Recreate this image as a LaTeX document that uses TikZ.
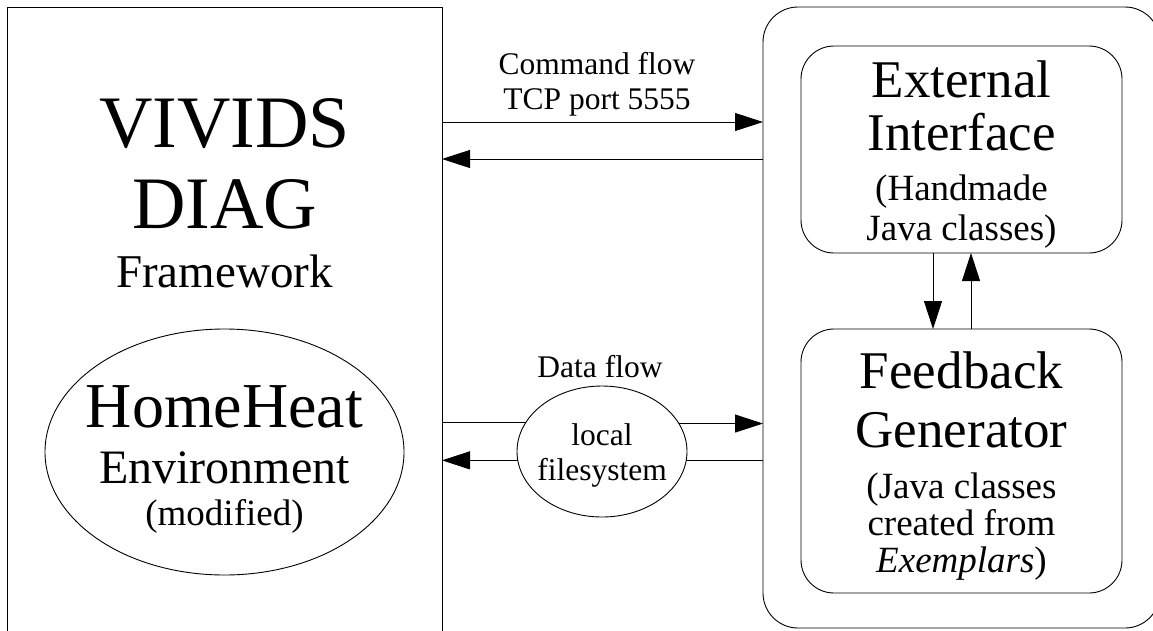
\documentclass[tikz,border=0pt]{standalone}
\usepackage{fontspec}
\setmainfont{Liberation Serif}
\usetikzlibrary{arrows.meta,shapes.geometric}
\begin{document}
\begin{tikzpicture}[x=1pt,y=-1pt,
  frame/.style={draw,line width=0.9pt,outer sep=0pt,inner sep=0pt},
  rbox/.style={frame,rectangle,rounded corners=#1},
  ell/.style={frame,ellipse},
  ln/.style={line width=0.9pt},
  arr/.style={ln,-{Triangle[length=28pt,width=18pt]}},
  txt/.style={anchor=base,inner sep=0pt,outer sep=0pt},
  huge/.style={txt,font=\fontsize{74}{80}\selectfont},
  fw/.style={txt,font=\fontsize{47}{52}\selectfont},
  hh/.style={txt,font=\fontsize{64}{70}\selectfont},
  env/.style={txt,font=\fontsize{48}{52}\selectfont},
  title/.style={txt,font=\fontsize{53}{58}\selectfont},
  sub/.style={txt,font=\fontsize{37}{40}\selectfont},
  lbl/.style={txt,font=\fontsize{31.5}{35}\selectfont},
]
\useasboundingbox (0,0) rectangle (1153,630);
\clip (0,0) rectangle (1153,630);

% left framework box (continues below the picture)
\node[frame,rectangle,minimum width=435pt,minimum height=700pt,anchor=north west] (diag) at (7,7) {};
\node[huge] (t1) at (224.5,147) {VIVIDS};
\node[huge] (t2) at (224.5,228) {DIAG};
\node[fw]   (t3) at (224.5,287) {Framework};

% HomeHeat ellipse
\node[ell,minimum width=359pt,minimum height=246pt] (hh) at (224.5,452) {};
\node[hh]  (h1) at (224.5,427) {HomeHeat};
\node[env] (h2) at (224.5,483) {Environment};
\node[sub] (h3) at (224.5,525) {(modified)};

% right outer box
\node[rbox=35pt,minimum width=397pt,minimum height=621pt] (outer) at (961.5,317.5) {};

% External Interface
\node[rbox=33pt,minimum width=321pt,minimum height=207pt] (ei) at (961.5,149.5) {};
\node[title] (e1) at (961.5,97) {External};
\node[title] (e2) at (961.5,150) {Interface};
\node[sub]   (e3) at (961.5,200) {(Handmade};
\node[sub]   (e4) at (961.5,240) {Java classes)};

% Feedback Generator
\node[rbox=33pt,minimum width=321pt,minimum height=264pt] (fg) at (961.5,461) {};
\node[title] (f1) at (961.5,388) {Feedback};
\node[title] (f2) at (961.5,447) {Generator};
\node[sub]   (f3) at (961.5,498) {(Java classes};
\node[sub]   (f4) at (961.5,535) {created from};
\node[sub]   (f5) at (961.5,572) {\textit{Exemplars})};

% command flow
\node[lbl] (c1t) at (597,74) {Command flow};
\node[lbl] (c2t) at (597,109) {TCP port 5555};
\coordinate (cy1) at (0,122);
\coordinate (cy2) at (0,159);
\draw[arr] (diag.east |- cy1) -- (outer.west |- cy1);
\draw[arr] (outer.west |- cy2) -- (diag.east |- cy2);

% data flow
\node[lbl] (dft) at (600,377) {Data flow};
\node[ell,minimum width=170pt,minimum height=131pt] (fs) at (602,451.5) {};
\node[lbl] (fs1) at (602,445) {local};
\node[lbl] (fs2) at (602,480) {filesystem};
\draw[ln] (diag.east |- fs.159.6) -- (fs.159.6);
\draw[arr] (fs.20.4) -- (outer.west |- fs.20.4);
\draw[ln] (outer.west |- fs.-6.4) -- (fs.-6.4);
\draw[arr] (fs.186.4) -- (diag.east |- fs.186.4);

% between inner boxes
\coordinate (vx1) at (933,0);
\coordinate (vx2) at (971,0);
\draw[arr] (ei.south -| vx1) -- (fg.north -| vx1);
\draw[arr] (fg.north -| vx2) -- (ei.south -| vx2);
\end{tikzpicture}
\end{document}
